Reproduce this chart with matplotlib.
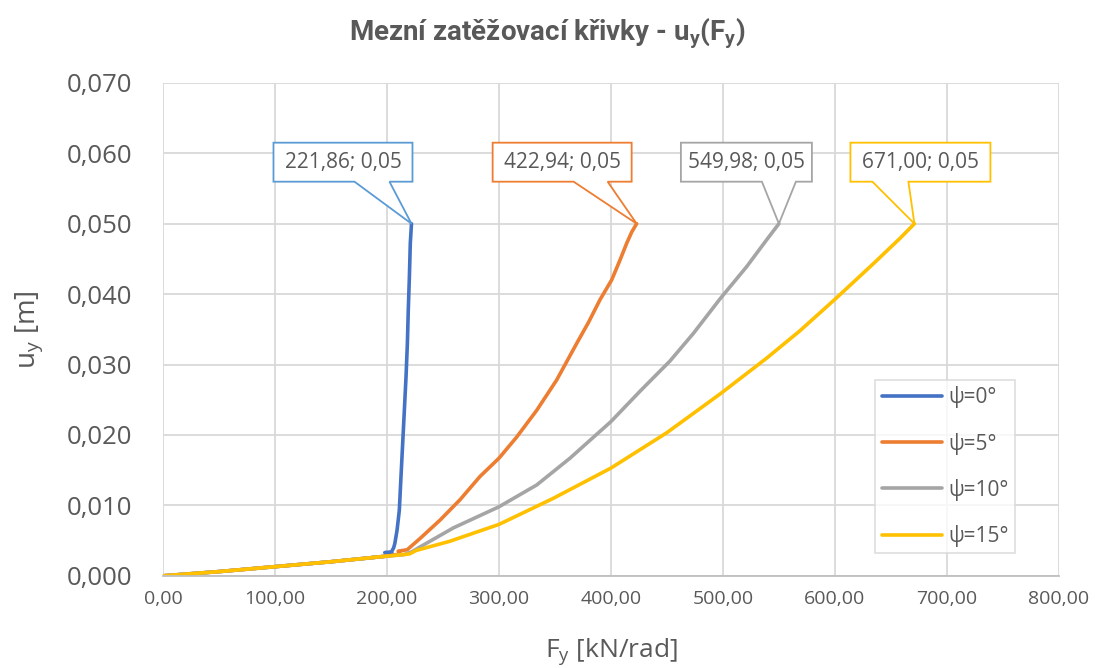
import matplotlib.pyplot as plt
from matplotlib.patches import Polygon
from matplotlib.ticker import FuncFormatter, MultipleLocator

# data
labels = ["ψ=0°", "ψ=5°", "ψ=10°", "ψ=15°"]
colors = ["#4472C4", "#ED7D31", "#A5A5A5", "#FFC000"]
box_colors = ["#5B9BD5", "#ED7D31", "#A5A5A5", "#FFC000"]

F0 = [0, 50, 100, 150, 200, 205, 198, 204, 206, 207, 209, 211, 212.5, 214, 215.5,
      217, 218.2, 219, 220, 220.8, 221.86]
u0 = [0, 0.0006, 0.0013, 0.0020, 0.0028, 0.0031, 0.0033, 0.0034, 0.0040, 0.0046,
      0.0065, 0.0093, 0.0141, 0.0188, 0.0235, 0.0283, 0.0330, 0.0377, 0.0425, 0.0472, 0.05]

F1 = [0, 50, 100, 150, 200, 212, 210, 218, 229.5, 247.3, 265.2, 283, 300, 315.8,
      333.7, 351.5, 369.4, 380, 390.2, 400.6, 408, 414, 418.5, 422.94]
u1 = [0, 0.0006, 0.0013, 0.0020, 0.0028, 0.0031, 0.0035, 0.0037, 0.0053, 0.0079,
      0.0108, 0.0141, 0.0167, 0.0197, 0.0235, 0.0278, 0.0330, 0.0360, 0.0392, 0.0420,
      0.0448, 0.0472, 0.0488, 0.05]

F2 = [0, 50, 100, 150, 200, 215, 222, 229.5, 259.2, 300, 333.7, 363.4, 400, 425.9,
      452.7, 473.5, 497.3, 521.2, 539, 549.98]
u2 = [0, 0.0006, 0.0013, 0.0020, 0.0028, 0.0030, 0.0034, 0.0041, 0.0068, 0.0098,
      0.0129, 0.0167, 0.0219, 0.0262, 0.0305, 0.0344, 0.0393, 0.0439, 0.0477, 0.05]

F3 = [0, 50, 100, 150, 200, 220, 226, 256, 300, 348.5, 400, 449.7, 497.3,
      539, 568.8, 600.3, 634.2, 658, 671]
u3 = [0, 0.0006, 0.0013, 0.0020, 0.0028, 0.0031, 0.0036, 0.0049, 0.0073, 0.0110,
      0.0153, 0.0203, 0.0258, 0.0309, 0.0348, 0.0393, 0.0443, 0.0479, 0.05]

series_F = [F0, F1, F2, F3]
series_u = [u0, u1, u2, u3]
end_labels = ["221,86; 0,05", "422,94; 0,05", "549,98; 0,05", "671,00; 0,05"]

# callout geometry in pixels relative to the end point: box x0, x1, top, bottom, tail base
callouts = [(-138, 1, 81, 42, -57, -22),
            (-144, -5, 81, 42, -63, -29),
            (-98, 33, 81, 42, -17, 17),
            (-64, 76, 81, 42, -42, -6)]

plt.rcParams['font.family'] = ['Open Sans', 'DejaVu Sans']
txt = "#595959"

fig = plt.figure(figsize=(10.95, 6.68), dpi=100)
ax = fig.add_axes([0.1489, 0.138, 0.8181, 0.738])

for F, u, c, lab in zip(series_F, series_u, colors, labels):
    ax.plot(F, u, color=c, lw=2.6, label=lab, solid_joinstyle='round', solid_capstyle='round')

ax.set_xlim(0, 800)
ax.set_ylim(0, 0.070)
ax.xaxis.set_major_locator(MultipleLocator(100))
ax.yaxis.set_major_locator(MultipleLocator(0.01))
ax.xaxis.set_major_formatter(FuncFormatter(lambda v, p: f"{v:.2f}".replace(".", ",")))
ax.yaxis.set_major_formatter(FuncFormatter(lambda v, p: f"{v:.3f}".replace(".", ",")))
ax.grid(True, color="#D9D9D9", lw=1.3)
ax.set_axisbelow(True)
for s in ["top", "right", "left"]:
    ax.spines[s].set_visible(False)
ax.spines["bottom"].set_color("#BFBFBF")
ax.spines["bottom"].set_linewidth(1.3)
ax.tick_params(length=0, colors=txt)
ax.tick_params(axis='x', labelsize=14, pad=10)
ax.tick_params(axis='y', labelsize=18.5, pad=22)

ax.set_xlabel(r"F$_\mathregular{y}$ [kN/rad]", fontsize=19, color=txt, labelpad=21)
ax.set_ylabel(r"u$_\mathregular{y}$ [m]", fontsize=20, color=txt, labelpad=16)
fig.text(0.5, 0.951, r"Mezní zatěžovací křivky - u$_\mathregular{y}$(F$_\mathregular{y}$)",
         ha='center', va='center', fontsize=20, color=txt, family='Roboto', weight='bold')

leg = ax.legend(loc='lower right', bbox_to_anchor=(0.951, 0.046), fontsize=15,
                frameon=True, fancybox=False, edgecolor="#D9D9D9", labelcolor=txt,
                handlelength=2.9, labelspacing=1.16, borderpad=0.3, handletextpad=0.3,
                borderaxespad=0)
leg.get_frame().set_linewidth(1.3)

# callouts drawn in pixel coordinates
H = fig.bbox.height
for F, u, bc, t, g in zip(series_F, series_u, box_colors, end_labels, callouts):
    px, py = ax.transData.transform((F[-1], u[-1]))
    x0, x1, top, bot, b0, b1 = g
    verts = [(px + x0, py + top), (px + x1, py + top), (px + x1, py + bot),
             (px + b1, py + bot), (px, py), (px + b0, py + bot), (px + x0, py + bot)]
    poly = Polygon(verts, closed=True, facecolor="white", edgecolor=bc, lw=1.3,
                   transform=None, zorder=5)
    fig.patches.append(poly)
    fig.text((px + (x0 + x1) / 2) / fig.bbox.width, (py + (top + bot) / 2) / H, t,
             ha='center', va='center', fontsize=15, color=txt, zorder=6)

fig.savefig("out.png", dpi=100)
